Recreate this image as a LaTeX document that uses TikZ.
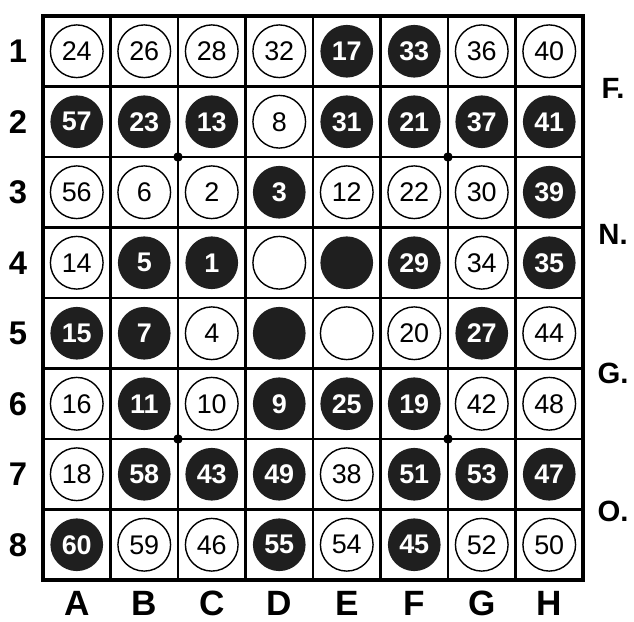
\documentclass[tikz,border=0pt]{standalone}
\usepackage{fontspec}
\setmainfont{Liberation Sans}
\tikzset{
  disc/.style={circle, minimum size=1.58cm, inner sep=0pt, font=\fontsize{23}{23}\selectfont},
  wdisc/.style={disc, draw=black, line width=1.2pt, fill=white},
  bdisc/.style={disc, fill=black!88, text=white, font=\fontsize{23}{23}\selectfont\bfseries},
  rowlab/.style={font=\fontsize{28}{28}\selectfont\bfseries},
  collab/.style={font=\fontsize{30}{30}\selectfont\bfseries},
  sidelab/.style={font=\fontsize{25}{25}\selectfont\bfseries},
  frame/.style={line width=3.6pt},
  gridline/.style={line width=1.8pt},
  starpt/.style={circle, fill=black, inner sep=0pt, minimum size=8pt},
}
\begin{document}
\begin{tikzpicture}[x=0.03cm, y=-0.03cm]
  \useasboundingbox (0,0) rectangle (634,622);
  % board
  \draw[gridline] (110.5,16) -- (110.5,580) (178,16) -- (178,580) (245.5,16) -- (245.5,580)
    (313,16) -- (313,580) (380.5,16) -- (380.5,580) (448,16) -- (448,580) (515.5,16) -- (515.5,580);
  \draw[gridline] (43,86.5) -- (583,86.5) (43,157) -- (583,157) (43,227.5) -- (583,227.5)
    (43,298) -- (583,298) (43,368.5) -- (583,368.5) (43,439) -- (583,439) (43,509.5) -- (583,509.5);
  \draw[frame] (43,16) rectangle (583,580);
  \node[starpt] (s1) at (178,157) {};
  \node[starpt] (s2) at (448,157) {};
  \node[starpt] (s3) at (178,439) {};
  \node[starpt] (s4) at (448,439) {};
  % row 1
  \node[wdisc] (a1) at (76.75,51.25) {24};
  \node[wdisc] (b1) at (144.25,51.25) {26};
  \node[wdisc] (c1) at (211.75,51.25) {28};
  \node[wdisc] (d1) at (279.25,51.25) {32};
  \node[bdisc] (e1) at (346.75,51.25) {17};
  \node[bdisc] (f1) at (414.25,51.25) {33};
  \node[wdisc] (g1) at (481.75,51.25) {36};
  \node[wdisc] (h1) at (549.25,51.25) {40};
  % row 2
  \node[bdisc] (a2) at (76.75,121.75) {57};
  \node[bdisc] (b2) at (144.25,121.75) {23};
  \node[bdisc] (c2) at (211.75,121.75) {13};
  \node[wdisc] (d2) at (279.25,121.75) {8};
  \node[bdisc] (e2) at (346.75,121.75) {31};
  \node[bdisc] (f2) at (414.25,121.75) {21};
  \node[bdisc] (g2) at (481.75,121.75) {37};
  \node[bdisc] (h2) at (549.25,121.75) {41};
  % row 3
  \node[wdisc] (a3) at (76.75,192.25) {56};
  \node[wdisc] (b3) at (144.25,192.25) {6};
  \node[wdisc] (c3) at (211.75,192.25) {2};
  \node[bdisc] (d3) at (279.25,192.25) {3};
  \node[wdisc] (e3) at (346.75,192.25) {12};
  \node[wdisc] (f3) at (414.25,192.25) {22};
  \node[wdisc] (g3) at (481.75,192.25) {30};
  \node[bdisc] (h3) at (549.25,192.25) {39};
  % row 4
  \node[wdisc] (a4) at (76.75,262.75) {14};
  \node[bdisc] (b4) at (144.25,262.75) {5};
  \node[bdisc] (c4) at (211.75,262.75) {1};
  \node[wdisc] (d4) at (279.25,262.75) {};
  \node[bdisc] (e4) at (346.75,262.75) {};
  \node[bdisc] (f4) at (414.25,262.75) {29};
  \node[wdisc] (g4) at (481.75,262.75) {34};
  \node[bdisc] (h4) at (549.25,262.75) {35};
  % row 5
  \node[bdisc] (a5) at (76.75,333.25) {15};
  \node[bdisc] (b5) at (144.25,333.25) {7};
  \node[wdisc] (c5) at (211.75,333.25) {4};
  \node[bdisc] (d5) at (279.25,333.25) {};
  \node[wdisc] (e5) at (346.75,333.25) {};
  \node[wdisc] (f5) at (414.25,333.25) {20};
  \node[bdisc] (g5) at (481.75,333.25) {27};
  \node[wdisc] (h5) at (549.25,333.25) {44};
  % row 6
  \node[wdisc] (a6) at (76.75,403.75) {16};
  \node[bdisc] (b6) at (144.25,403.75) {11};
  \node[wdisc] (c6) at (211.75,403.75) {10};
  \node[bdisc] (d6) at (279.25,403.75) {9};
  \node[bdisc] (e6) at (346.75,403.75) {25};
  \node[bdisc] (f6) at (414.25,403.75) {19};
  \node[wdisc] (g6) at (481.75,403.75) {42};
  \node[wdisc] (h6) at (549.25,403.75) {48};
  % row 7
  \node[wdisc] (a7) at (76.75,474.25) {18};
  \node[bdisc] (b7) at (144.25,474.25) {58};
  \node[bdisc] (c7) at (211.75,474.25) {43};
  \node[bdisc] (d7) at (279.25,474.25) {49};
  \node[wdisc] (e7) at (346.75,474.25) {38};
  \node[bdisc] (f7) at (414.25,474.25) {51};
  \node[bdisc] (g7) at (481.75,474.25) {53};
  \node[bdisc] (h7) at (549.25,474.25) {47};
  % row 8
  \node[bdisc] (a8) at (76.75,544.75) {60};
  \node[wdisc] (b8) at (144.25,544.75) {59};
  \node[wdisc] (c8) at (211.75,544.75) {46};
  \node[bdisc] (d8) at (279.25,544.75) {55};
  \node[wdisc] (e8) at (346.75,544.75) {54};
  \node[bdisc] (f8) at (414.25,544.75) {45};
  \node[wdisc] (g8) at (481.75,544.75) {52};
  \node[wdisc] (h8) at (549.25,544.75) {50};
  % labels
  \node[rowlab] (r1) at (18,51.25) {1};
  \node[rowlab] (r2) at (18,121.75) {2};
  \node[rowlab] (r3) at (18,192.25) {3};
  \node[rowlab] (r4) at (18,262.75) {4};
  \node[rowlab] (r5) at (18,333.25) {5};
  \node[rowlab] (r6) at (18,403.75) {6};
  \node[rowlab] (r7) at (18,474.25) {7};
  \node[rowlab] (r8) at (18,544.75) {8};
  \node[collab] (ca) at (76.75,603) {A};
  \node[collab] (cb) at (144.25,603) {B};
  \node[collab] (cc) at (211.75,603) {C};
  \node[collab] (cd) at (279.25,603) {D};
  \node[collab] (ce) at (346.75,603) {E};
  \node[collab] (cf) at (414.25,603) {F};
  \node[collab] (cg) at (481.75,603) {G};
  \node[collab] (ch) at (549.25,603) {H};
  \node[sidelab] (fn) at (613,88) {F.};
  \node[sidelab] (nn) at (613,234) {N.};
  \node[sidelab] (gn) at (613,373) {G.};
  \node[sidelab] (on) at (613,511) {O.};
\end{tikzpicture}
\end{document}
